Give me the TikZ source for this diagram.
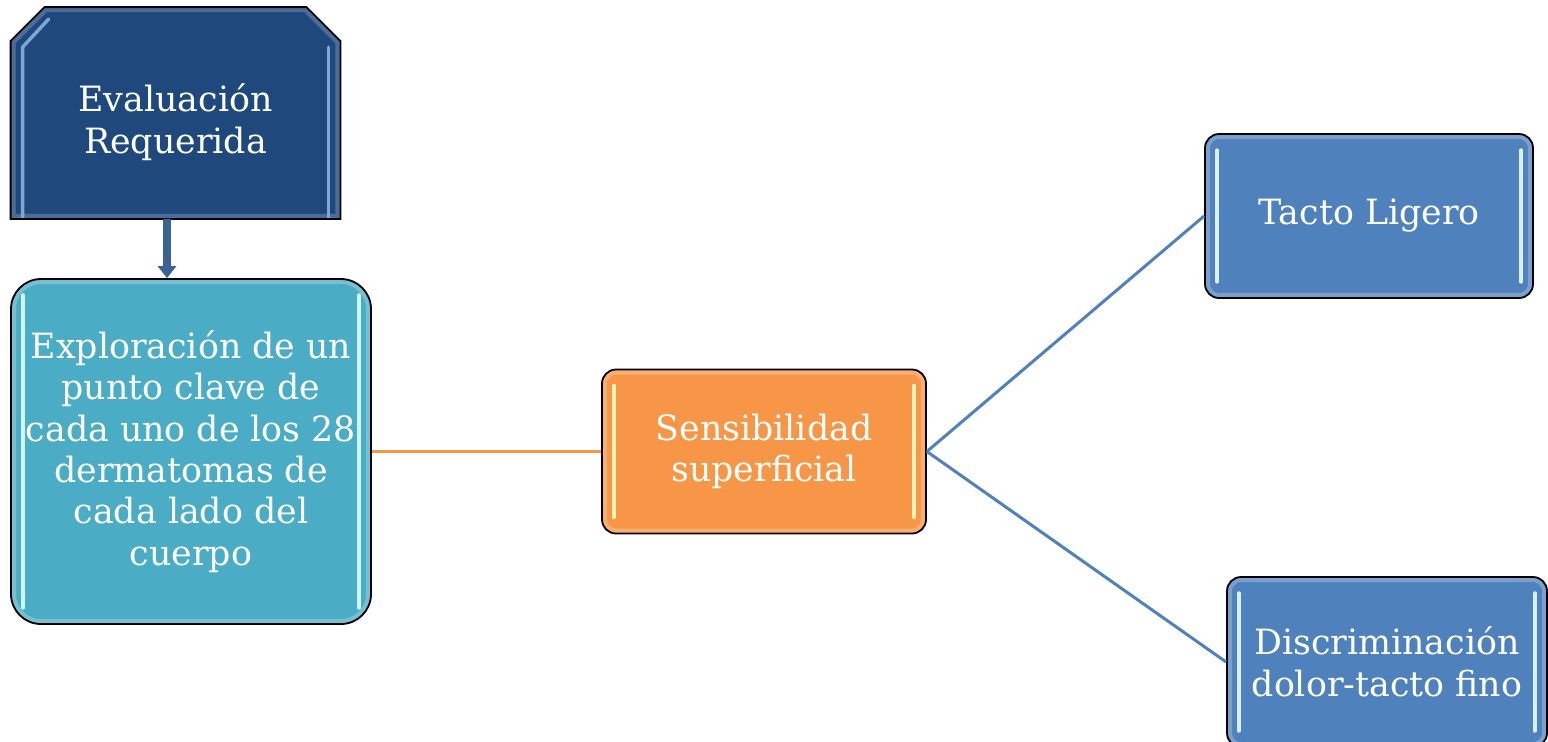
\documentclass[tikz,border=0pt]{standalone}
\usepackage{fontspec}
\setmainfont{DejaVu Serif}
\usetikzlibrary{arrows.meta}
\definecolor{cDark}{HTML}{1F497D}
\definecolor{cTeal}{HTML}{4BACC6}
\definecolor{cOrange}{HTML}{F79646}
\definecolor{cBlue}{HTML}{4F81BD}
\definecolor{cArrow}{HTML}{3C6396}
\definecolor{hlDark}{HTML}{7FA6D6}
\definecolor{hlTeal}{HTML}{CFF6FF}
\definecolor{hlOrange}{HTML}{FFF3B8}
\definecolor{hlBlue}{HTML}{D8F0FF}
\begin{document}
\begin{tikzpicture}[x=0.5pt,y=-0.5pt,
  boxtext/.style={font=\fontsize{17.4pt}{20.7pt}\selectfont, text=white, align=center, inner sep=0pt},
  gbox/.style n args={3}{rectangle, rounded corners=#2, fill=#1, draw=black, line width=0.9pt,
    inner sep=0pt, font=\fontsize{17.4pt}{20.7pt}\selectfont, text=white, align=center,
    path picture={
      \draw[line width=5pt, #1!55!white, opacity=0.55, rounded corners=#2]
        (path picture bounding box.south west) rectangle (path picture bounding box.north east);
      \draw[#3, line width=1.7pt, line cap=round]
        ([shift={(6pt,-8pt)}]path picture bounding box.north west) -- ([shift={(6pt,8pt)}]path picture bounding box.south west);
      \draw[#3, line width=1.7pt, line cap=round]
        ([shift={(-6pt,-8pt)}]path picture bounding box.north east) -- ([shift={(-6pt,8pt)}]path picture bounding box.south east);
    }},
  link/.style={line width=1.5pt}
]
\useasboundingbox (0,0) rectangle (1548,741);

% Box 1: snipped top corners
\node[rectangle, minimum width=164.5pt, minimum height=105.5pt, inner sep=0pt] (eval) at (175.5,113) {};
\begin{scope}
  \path[fill=cDark] ([yshift=-17pt]eval.north west) -- ([xshift=17pt]eval.north west) -- ([xshift=-17pt]eval.north east)
     -- ([yshift=-17pt]eval.north east) -- (eval.south east) -- (eval.south west) -- cycle;
  \clip ([yshift=-17pt]eval.north west) -- ([xshift=17pt]eval.north west) -- ([xshift=-17pt]eval.north east)
     -- ([yshift=-17pt]eval.north east) -- (eval.south east) -- (eval.south west) -- cycle;
  \draw[line width=5pt, cDark!55!white, opacity=0.45] ([yshift=-17pt]eval.north west) -- ([xshift=17pt]eval.north west) -- ([xshift=-17pt]eval.north east)
     -- ([yshift=-17pt]eval.north east) -- (eval.south east) -- (eval.south west) -- cycle;
  \draw[hlDark, line width=1.7pt, line cap=round] ([shift={(6pt,-10pt)}]eval.south west) -- ([shift={(6pt,-20pt)}]eval.north west) -- ([shift={(19pt,-6pt)}]eval.north west);
  \draw[hlDark, line width=1.7pt, line cap=round] ([shift={(-6pt,-10pt)}]eval.south east) -- ([shift={(-6pt,-20pt)}]eval.north east);
\end{scope}
\draw[black, line width=0.9pt] ([yshift=-17pt]eval.north west) -- ([xshift=17pt]eval.north west) -- ([xshift=-17pt]eval.north east)
     -- ([yshift=-17pt]eval.north east) -- (eval.south east) -- (eval.south west) -- cycle;
\node[boxtext] (evaltxt) at (175.5,122) {Evaluación\\Requerida};

% Other boxes
\node[gbox={cTeal}{15pt}{hlTeal}, minimum width=180pt, minimum height=172.5pt] (expl) at (191,451.5)
  {Exploración de un\\punto clave de\\cada uno de los 28\\dermatomas de\\cada lado del\\cuerpo};
\node[gbox={cOrange}{7pt}{hlOrange}, minimum width=162pt, minimum height=82pt] (sens) at (764,451.5)
  {Sensibilidad\\superficial};
\node[gbox={cBlue}{7pt}{hlBlue}, minimum width=164pt, minimum height=82pt] (tacto) at (1369,216)
  {Tacto Ligero};
\node[gbox={cBlue}{7pt}{hlBlue}, minimum width=160pt, minimum height=85pt] (disc) at (1387,662)
  {Discriminación\\dolor-tacto fino};

% Connectors
\draw[cArrow, line width=4pt, -{Triangle[width=9pt,length=6pt]}] ([xshift=-4.25pt]eval.south) -- ([xshift=-4.25pt]eval.south |- expl.north);
\draw[link, cOrange] (expl.east) -- (sens.west);
\draw[link, cBlue] (sens.east) -- (tacto.west);
\draw[link, cBlue] (sens.east) -- (disc.west);
\end{tikzpicture}
\end{document}
